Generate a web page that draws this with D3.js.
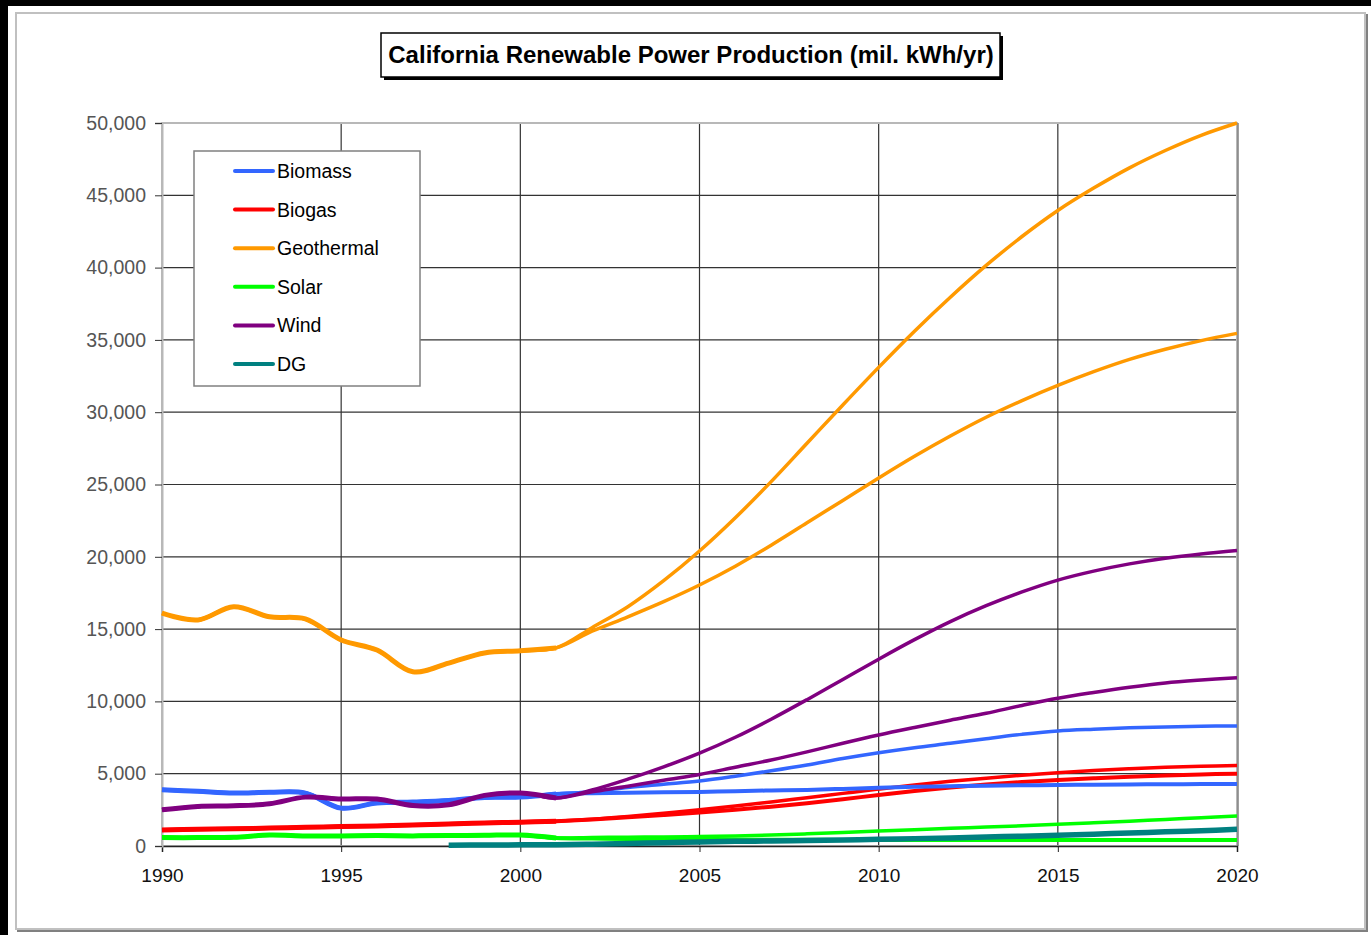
<!DOCTYPE html>
<html>
<head>
<meta charset="utf-8">
<script src="https://cdn.jsdelivr.net/npm/d3@7"></script>
<style>
  body { margin: 0; background: #fff; }
  svg { display: block; font-family: Arial, "Liberation Sans", sans-serif; }
</style>
</head>
<body>
<div id="chart"></div>
<script>
// years
const histYears = [1990, 1991, 1992, 1993, 1994, 1995, 1996, 1997, 1998, 1999, 2000, 2001];
const projYears = [2001, 2002, 2003, 2004, 2005, 2006, 2007, 2008, 2009, 2010,
                   2011, 2012, 2013, 2014, 2015, 2016, 2017, 2018, 2019, 2020];
const dgYears = [1998, 1999, 2000, 2001, 2002, 2003, 2004, 2005, 2006, 2007, 2008, 2009,
                 2010, 2011, 2012, 2013, 2014, 2015, 2016, 2017, 2018, 2019, 2020];

// historical values (mil. kWh/yr)
const biomassHist = [3890, 3780, 3660, 3710, 3660, 2620, 2970, 3040, 3150, 3360, 3380, 3600];
const biogasHist  = [1110, 1150, 1190, 1240, 1290, 1340, 1390, 1450, 1520, 1590, 1650, 1720];
const geoHist     = [16100, 15630, 16550, 15850, 15700, 14250, 13550, 12050, 12650, 13350, 13500, 13700];
const solarHist   = [580, 580, 600, 760, 700, 700, 720, 700, 720, 740, 760, 560];
const windHist    = [2500, 2740, 2780, 2920, 3380, 3250, 3250, 2800, 2850, 3500, 3660, 3320];

// projections 2001-2020, high and low cases
const biomassHigh = [3600, 3760, 4040, 4270, 4500, 4830, 5200, 5600, 6050, 6450, 6800, 7100, 7420, 7720, 7960, 8080, 8170, 8230, 8280, 8300];
const biomassLow  = [3600, 3650, 3680, 3710, 3740, 3790, 3840, 3880, 3950, 4030, 4090, 4140, 4170, 4200, 4220, 4240, 4260, 4270, 4280, 4290];
const biogasHigh  = [1720, 1850, 2040, 2270, 2500, 2760, 3040, 3340, 3640, 3940, 4220, 4470, 4690, 4890, 5070, 5220, 5340, 5440, 5510, 5560];
const biogasLow   = [1720, 1830, 1980, 2140, 2310, 2500, 2720, 2960, 3230, 3530, 3800, 4040, 4250, 4420, 4560, 4680, 4790, 4880, 4950, 5000];
const geoHigh     = [13700, 15100, 16550, 18350, 20400, 22700, 25200, 27850, 30500, 33100, 35600, 37950, 40150, 42150, 43950, 45500, 46900, 48100, 49150, 50000];
const geoLow      = [13700, 14850, 15850, 16900, 18050, 19350, 20800, 22350, 23900, 25450, 26950, 28350, 29650, 30800, 31850, 32800, 33650, 34350, 34950, 35450];
const solarHigh   = [560, 590, 610, 630, 660, 700, 760, 840, 930, 1040, 1130, 1220, 1310, 1400, 1500, 1610, 1720, 1840, 1950, 2070];
const solarLow    = [560, 520, 490, 470, 450, 440, 430, 430, 420, 420, 420, 420, 420, 420, 420, 420, 420, 420, 420, 415];
const windHigh    = [3320, 3870, 4620, 5470, 6420, 7520, 8770, 10120, 11520, 12920, 14270, 15520, 16620, 17570, 18390, 19010, 19510, 19900, 20200, 20440];
const windLow     = [3320, 3750, 4130, 4550, 4940, 5450, 5950, 6510, 7110, 7680, 8200, 8700, 9180, 9720, 10220, 10620, 10980, 11280, 11480, 11640];
const dgValues    = [60, 70, 80, 90, 120, 170, 230, 280, 320, 350, 380, 420, 460, 510, 560, 620, 680, 740, 820, 900, 980, 1060, 1150];

const sources = ["Biomass", "Biogas", "Geothermal", "Solar", "Wind", "DG"];
const colors = ["#3366ff", "#ff0000", "#ff9900", "#00ff00", "#800080", "#008080"];

const xTicks = [1990, 1995, 2000, 2005, 2010, 2015, 2020];
const yTicks = [0, 5000, 10000, 15000, 20000, 25000, 30000, 35000, 40000, 45000, 50000];

const W = 1371, H = 935;
const svg = d3.select("#chart").append("svg").attr("width", W).attr("height", H);

// page frame
svg.append("rect").attr("x", 0).attr("y", 0).attr("width", W).attr("height", 6).attr("fill", "#000");
svg.append("rect").attr("x", 0).attr("y", 0).attr("width", 8).attr("height", H).attr("fill", "#000");
svg.append("rect").attr("x", 18).attr("y", 15).attr("width", 1349).attr("height", 916)
  .attr("fill", "none").attr("stroke", "#808080").attr("stroke-width", 2);
svg.append("rect").attr("x", 16).attr("y", 13).attr("width", 1349).attr("height", 916)
  .attr("fill", "#fff").attr("stroke", "#c0c0c0").attr("stroke-width", 2);

// scales
const x = d3.scaleLinear().domain([1990, 2020]).range([162, 1237]);
const y = d3.scaleLinear().domain([0, 50000]).range([846, 123]);

// gridlines
const grid = svg.append("g");
grid.selectAll("line.v").data(xTicks.slice(1, -1)).join("line")
  .attr("x1", d => x(d)).attr("x2", d => x(d))
  .attr("y1", y(50000)).attr("y2", y(0))
  .attr("stroke", "#333").attr("stroke-width", 1.2);
grid.selectAll("line.h").data(yTicks.slice(1, -1)).join("line")
  .attr("x1", x(1990)).attr("x2", x(2020))
  .attr("y1", d => y(d)).attr("y2", d => y(d))
  .attr("stroke", "#333").attr("stroke-width", 1.2);

// plot frame
svg.append("rect")
  .attr("x", x(1990)).attr("y", y(50000))
  .attr("width", x(2020) - x(1990)).attr("height", y(0) - y(50000))
  .attr("fill", "none").attr("stroke", "#b8b8b8").attr("stroke-width", 2);
svg.append("line").attr("x1", x(2020) + 1).attr("x2", x(2020) + 1)
  .attr("y1", y(50000)).attr("y2", y(0)).attr("stroke", "#808080").attr("stroke-width", 1.5);

// axes
const xAxis = svg.append("g").attr("transform", `translate(0,${y(0)})`)
  .call(d3.axisBottom(x).tickValues(xTicks).tickFormat(d3.format("d")).tickSize(6).tickPadding(17));
xAxis.select(".domain").attr("stroke", "#222").attr("stroke-width", 1.5);
xAxis.selectAll(".tick line").attr("stroke", "#222");
xAxis.selectAll("text").attr("font-size", 19).attr("fill", "#111")
  .attr("font-family", "Arial, 'Liberation Sans', sans-serif");

const yAxis = svg.append("g").attr("transform", `translate(${x(1990)},0)`)
  .call(d3.axisLeft(y).tickValues(yTicks).tickFormat(d3.format(",")).tickSize(7).tickPadding(9));
yAxis.select(".domain").attr("stroke", "#b8b8b8").attr("stroke-width", 2);
yAxis.selectAll(".tick line").attr("stroke", "#333");
yAxis.selectAll("text").attr("font-size", 19.5).attr("fill", "#555")
  .attr("font-family", "Arial, 'Liberation Sans', sans-serif");

// lines
const line = d3.line()
  .x(d => x(d[0])).y(d => y(d[1]))
  .curve(d3.curveCatmullRom.alpha(0.5));
const zip = (ys, vs) => ys.map((yr, i) => [yr, vs[i]]);

const plot = svg.append("g");
function draw(ys, vs, color, w) {
  plot.append("path").datum(zip(ys, vs))
    .attr("fill", "none").attr("stroke", color).attr("stroke-width", w)
    .attr("stroke-linejoin", "round").attr("d", line);
}
// projection drawn as full series so it joins the history smoothly
const fullYears = histYears.slice(0, -1).concat(projYears);
function drawCase(hist, proj, color, w) {
  draw(fullYears, hist.slice(0, -1).concat(proj), color, w);
}

drawCase(solarHist, solarLow, colors[3], 4);
drawCase(solarHist, solarHigh, colors[3], 3.5);
drawCase(biogasHist, biogasLow, colors[1], 4);
drawCase(biogasHist, biogasHigh, colors[1], 3.5);
drawCase(biomassHist, biomassLow, colors[0], 4);
drawCase(biomassHist, biomassHigh, colors[0], 3.5);
drawCase(windHist, windLow, colors[4], 3.5);
drawCase(windHist, windHigh, colors[4], 3.5);
drawCase(geoHist, geoLow, colors[2], 3.5);
drawCase(geoHist, geoHigh, colors[2], 3.5);
// historical
draw(histYears, solarHist, colors[3], 5);
draw(histYears, biogasHist, colors[1], 5);
draw(histYears, biomassHist, colors[0], 5);
draw(histYears, windHist, colors[4], 5);
draw(histYears, geoHist, colors[2], 5);
draw(dgYears, dgValues, colors[5], 5.5);

// title
const title = svg.append("g");
title.append("rect").attr("x", 384).attr("y", 36).attr("width", 619).attr("height", 44).attr("fill", "#000");
title.append("rect").attr("x", 381).attr("y", 33).attr("width", 619).attr("height", 44)
  .attr("fill", "#fff").attr("stroke", "#000").attr("stroke-width", 1.5);
title.append("text").attr("x", 691).attr("y", 63).attr("text-anchor", "middle")
  .attr("font-size", 24).attr("font-weight", "bold").attr("fill", "#000")
  .text("California Renewable Power Production (mil. kWh/yr)");

// legend
const legend = svg.append("g");
legend.append("rect").attr("x", 194).attr("y", 151).attr("width", 226).attr("height", 235)
  .attr("fill", "#fff").attr("stroke", "#808080").attr("stroke-width", 1.5);
const rows = legend.selectAll("g.row").data(sources).join("g")
  .attr("transform", (d, i) => `translate(0,${171 + i * 38.6})`);
rows.append("line").attr("x1", 235).attr("x2", 273).attr("y1", 0).attr("y2", 0)
  .attr("stroke", (d, i) => colors[i]).attr("stroke-width", 4).attr("stroke-linecap", "round");
rows.append("text").attr("x", 277).attr("y", 7).attr("font-size", 19.5).attr("fill", "#000")
  .text(d => d);
</script>
</body>
</html>
